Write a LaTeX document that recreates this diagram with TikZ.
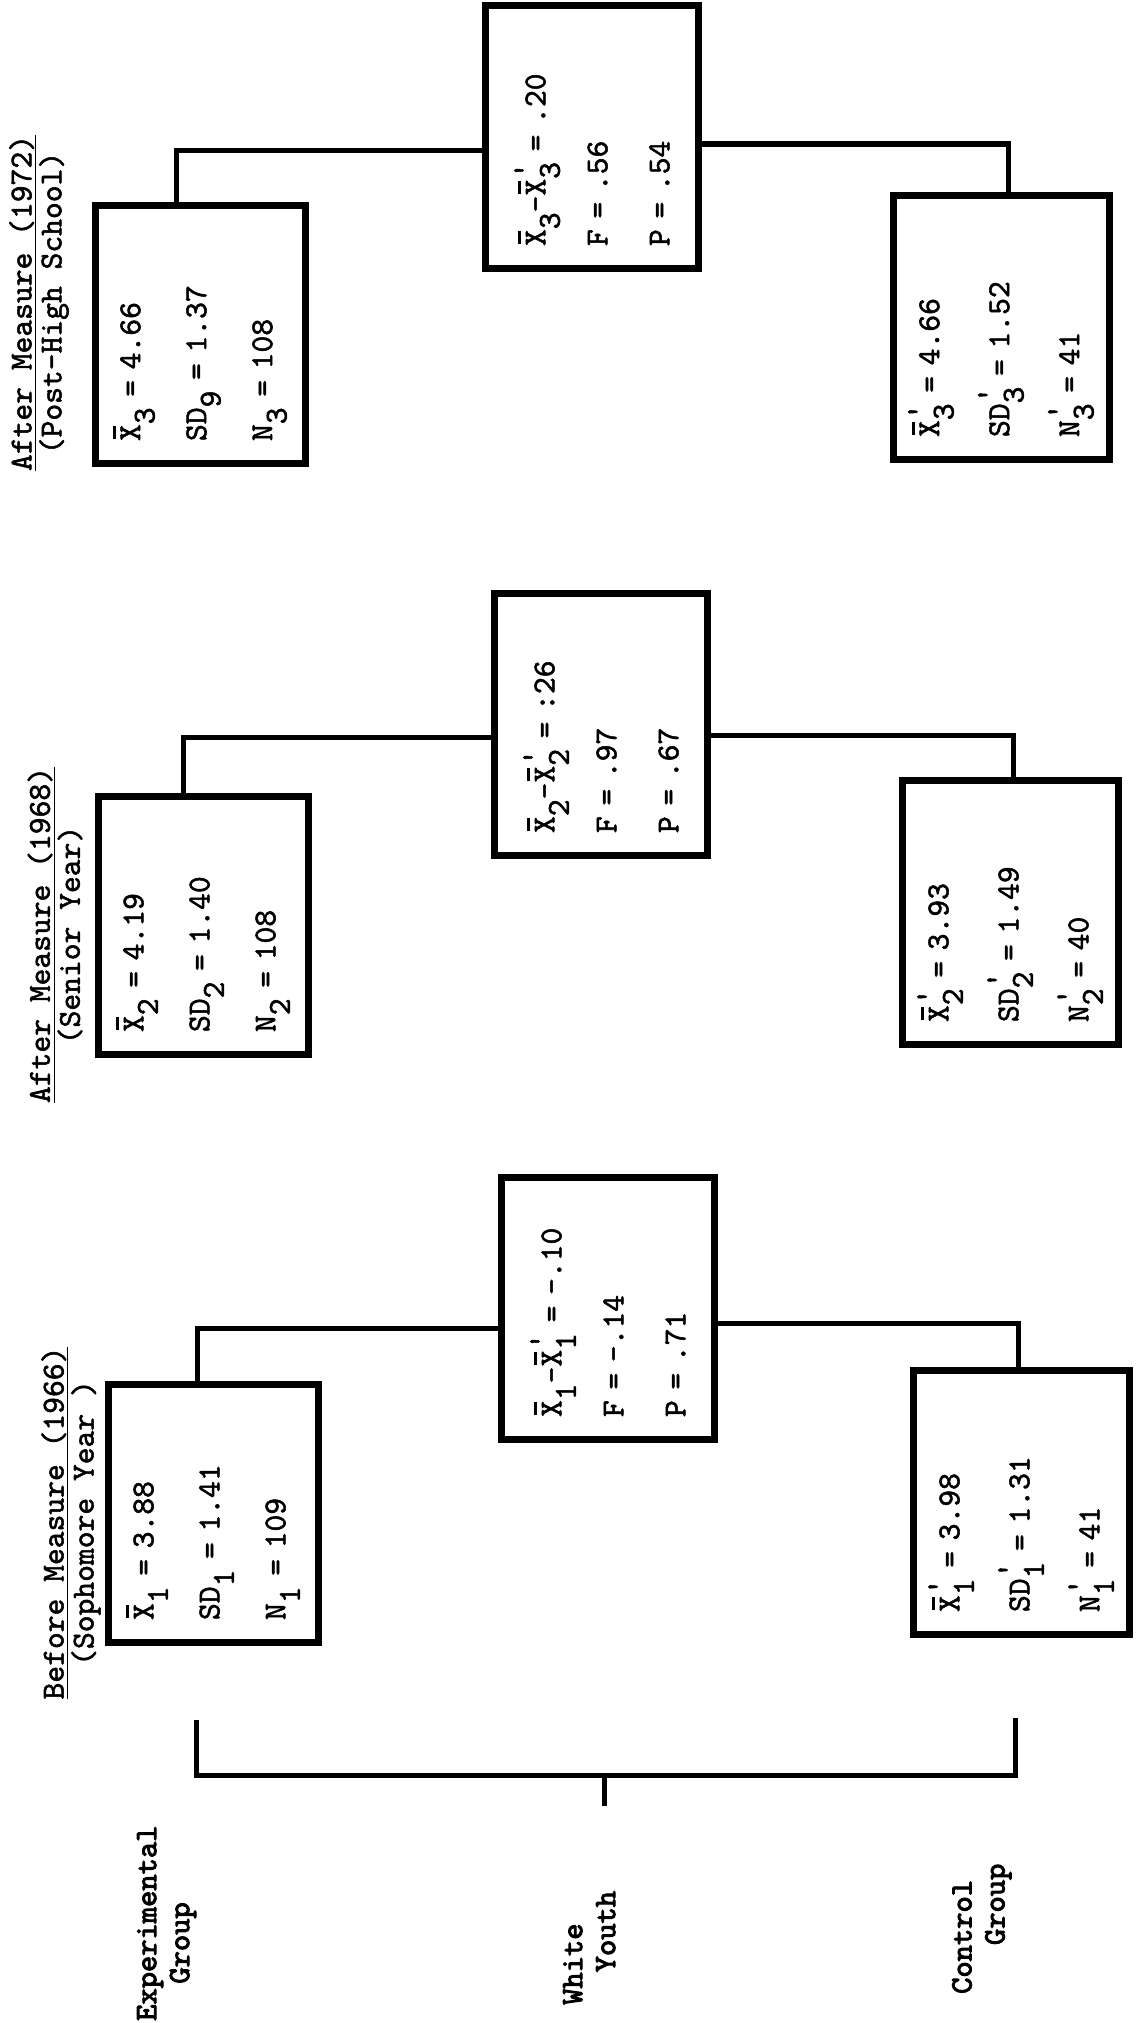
\documentclass[tikz,border=0pt]{standalone}
\usepackage{fontspec}
\usepackage{tikz}

% heavier typewriter faces
\newfontfamily\ketik{lmmono10-regular}[Extension=.otf, FakeBold=1.6]
\newfontfamily\ketiktebal{lmmono10-regular}[Extension=.otf, FakeBold=3.2]

% typewriter-style notation: bar over X, lowered subscript, prime over the subscript
\newcommand{\xb}{\makebox[0pt][l]{\hspace{0.05em}\rule[0.76em]{0.42em}{0.09em}}X}
\newcommand{\lo}[1]{\raisebox{-0.45em}{#1}}
\newcommand{\lop}[1]{\makebox[0pt][l]{\raisebox{-0.45em}{#1}}\raisebox{0.35em}{'}}

\begin{document}
\begin{tikzpicture}[x=1pt, y=1pt,
  kotakE/.style={draw, line width=7pt, rotate=90, inner sep=0pt, align=left,
    minimum width=258pt, minimum height=210pt, text width=214pt,
    font=\ketik\fontsize{32}{66}\selectfont},
  kotakU/.style={kotakE, minimum width=262pt, minimum height=213pt, text width=218pt,
    font=\ketik\fontsize{32}{62}\selectfont},
  kotakC/.style={kotakE, minimum width=264pt, minimum height=216pt, text width=220pt,
    font=\ketik\fontsize{32}{70}\selectfont},
  judul/.style={rotate=90, align=center, inner sep=0pt,
    font=\ketik\fontsize{32}{30}\selectfont},
  grup/.style={rotate=90, align=left, inner sep=0pt, anchor=north west,
    font=\ketiktebal\fontsize{31}{33}\selectfont},
  garis/.style={line width=5pt}
]
  \fill[white] (0,0) rectangle (1140,-2023);
  \useasboundingbox (0,0) rectangle (1140,-2023);

  % column headings
  \node[judul] (h1) at (71,-1523) {\underline{Before Measure (1966)}\\(Sophomore Year )};
  \node[judul] (h2) at (55,-935) {\underline{After Measure (1968)}\\(Senior Year)};
  \node[judul] (h3) at (39,-303) {\underline{After Measure (1972)}\\(Post-High School)};

  % experimental group
  \node[kotakE] (e1) at (213,-1513) {\xb\lo{1} = 3.88\\SD\lo{1} = 1.41\\N\lo{1} = 109};
  \node[kotakE] (e2) at (203,-925) {\xb\lo{2} = 4.19\\SD\lo{2} = 1.40\\N\lo{2} = 108};
  \node[kotakE] (e3) at (200,-334) {\xb\lo{3} = 4.66\\SD\lo{9} = 1.37\\N\lo{3} = 108};

  % differences
  \node[kotakU] (d1) at (608,-1308) {\xb\lo{1}-\xb\lop{1} = -.10\\F = -.14\\P = .71};
  \node[kotakU] (d2) at (601,-724) {\xb\lo{2}-\xb\lop{2} = :26\\F = .97\\P = .67};
  \node[kotakU] (d3) at (592,-137) {\xb\lo{3}-\xb\lop{3} = .20\\F = .56\\P = .54};

  % control group
  \node[kotakC] (c1) at (1021,-1502) {\xb\lop{1} = 3.98\\SD\lop{1} = 1.31\\N\lop{1} = 41};
  \node[kotakC] (c2) at (1010,-912) {\xb\lop{2} = 3.93\\SD\lop{2} = 1.49\\N\lop{2} = 40};
  \node[kotakC] (c3) at (1001,-327) {\xb\lop{3} = 4.66\\SD\lop{3} = 1.52\\N\lop{3} = 41};

  % elbow points of the connectors
  \coordinate (ke1) at (197,-1328);
  \coordinate (kc1) at (1018,-1323);
  \coordinate (ke2) at (183,-737);
  \coordinate (kc2) at (1013,-735);
  \coordinate (ke3) at (176,-150);
  \coordinate (kc3) at (1008,-144);

  \draw[garis] (e1.east -| ke1) |- (d1.north |- ke1);
  \draw[garis] (d1.south |- kc1) -| (c1.east -| kc1);
  \draw[garis] (e2.east -| ke2) |- (d2.north |- ke2);
  \draw[garis] (d2.south |- kc2) -| (c2.east -| kc2);
  \draw[garis] (e3.east -| ke3) |- (d3.north |- ke3);
  \draw[garis] (d3.south |- kc3) -| (c3.east -| kc3);

  % bracket over the groups
  \coordinate (bkiri) at (196,-1720);
  \coordinate (bkanan) at (1015,-1718);
  \coordinate (btengah) at (604,-1775);
  \coordinate (bujung) at (604,-1806);
  \draw[garis] (bkiri) |- (btengah) -| (bkanan);
  \draw[garis] (btengah) -- (bujung);

  \node[grup] (eksp) at (137,-2021) {Experimental\\\hspace{1.2em}Group};
  \node[grup] (putih) at (563,-2005) {White\\\hspace{1.05em}Youth};
  \node[grup] (kontrol) at (952,-1994) {Control\\\hspace{1.575em}Group};
\end{tikzpicture}
\end{document}
